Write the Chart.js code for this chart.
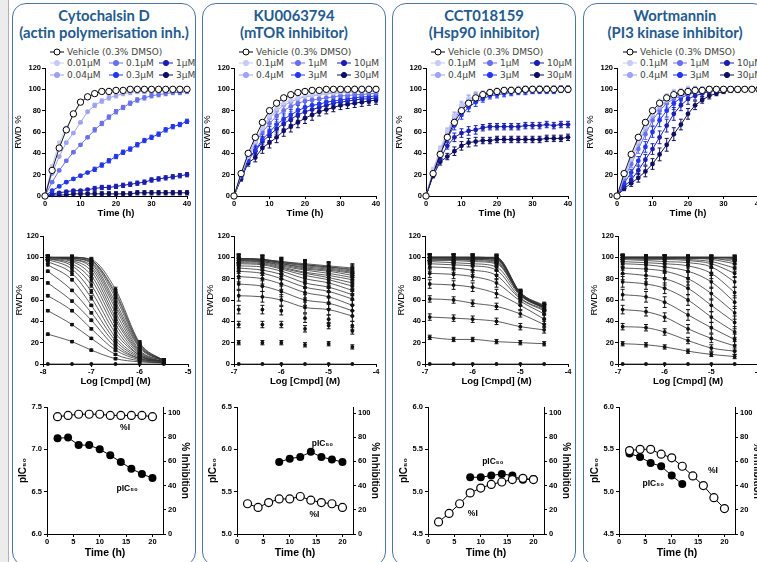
<!DOCTYPE html>
<html lang="en">
<head>
<meta charset="UTF-8">
<title>Live-cell wound closure panels</title>
<script src="https://cdn.jsdelivr.net/npm/chart.js@4.4.1/dist/chart.umd.min.js"></script>
<style>
  *{box-sizing:border-box}
  html,body{margin:0;padding:0;background:#fff}
  body{position:relative;width:757px;height:562px;overflow:hidden;font-family:'Liberation Sans',Arial,sans-serif}
  .edge{position:absolute;left:0;top:0;width:9px;height:562px;background:#ececec;border-right:1px solid #b0b0b0}
  .panel{position:absolute;top:3px;width:184px;height:563px;border:1.5px solid #4d74a8;border-radius:14px}
  .title{position:absolute;top:7px;width:184px;text-align:center;font:bold 14.8px Lato,sans-serif;line-height:16.5px;color:#245a8e}
  canvas{position:absolute}
  .lg{position:absolute;height:12px;display:flex;align-items:center;white-space:nowrap;font:9px 'DejaVu Sans',sans-serif;color:#444}
  .lg span{margin-left:3px}
</style>
</head>
<body>
<div class="edge"></div>
<script>
// ---- data -------------------------------------------------------------
const TIME = [0,2,4,6,8,10,12,14,16,18,20,22,24,26,28,30,32,34,36,38,40];
const T3 = [2,4,6,8,10,12,14,16,18,20];
const T3_LATE = [8,10,12,14,16,18,20];
const T3_EARLY = [2,4,6,8,10,12];

const CYTO_CONC = ['0.01\u03bcM','0.04\u03bcM','0.1\u03bcM','0.3\u03bcM','1\u03bcM','3\u03bcM'];
const OTHER_CONC = ['0.1\u03bcM','0.4\u03bcM','1\u03bcM','3\u03bcM','10\u03bcM','30\u03bcM'];
const CYTO_LOG = [-7.9,-7.4,-7.0,-6.5,-6.0,-5.5];
const OTHER_LOG = [-6.9,-6.4,-6.0,-5.5,-5.0,-4.5];

// RWD % over time, Cytochalsin D
const cyto_veh = [0,24,45,62,77,88,93,96,98,98,99,99,100,100,100,100,100,100,100,100,100];
const cyto_001 = [0,28,50,64,76,87,93,96,98,99,99,99,100,100,100,100,100,100,100,100,100];
const cyto_004 = [0,21,37,50,59,69,79,85,89,92,94,96,97,98,98,99,99,99,100,100,100];
const cyto_01  = [0,13,24,33,41,48,55,62,68,74,79,83,87,90,92,94,95,96,97,97,98];
const cyto_03  = [0,5,9,13,16,19,22,25,29,33,37,41,44,48,52,55,58,62,65,67,70];
const cyto_1   = [0,2,3,4,5,5,6,7,8,8,9,10,11,12,13,15,16,17,18,19,20];
const cyto_3   = [0,1,1,1,2,2,2,2,2,2,2,2,2,3,3,3,3,3,3,3,3];
const cyto_err = [0,1,1,1,1,1,1,2,2,2,2,2,2,2,2,2,2,2,2,2,2];

// KU0063794
const ku_veh = [0,21,40,55,69,80,87,92,95,97,98,99,99,100,100,100,100,100,100,100,100];
const ku_01  = [0,20,37,51,64,75,82,87,90,92,94,95,96,97,97,98,98,99,99,99,99];
const ku_04  = [0,20,37,51,63,73,80,85,88,91,93,94,95,96,96,97,97,98,98,98,98];
const ku_1   = [0,20,37,50,60,68,75,80,84,87,89,90,91,92,93,94,94,95,95,96,96];
const ku_3   = [0,18,33,43,53,60,67,72,76,80,83,85,86,88,89,90,91,92,93,93,94];
const ku_10  = [0,19,36,42,51,57,63,68,72,76,79,81,83,85,87,88,89,90,91,91,92];
const ku_30  = [0,16,31,36,45,50,55,61,65,69,73,76,79,81,83,85,86,87,88,89,90];
const ku_err = [0,2,3,4,5,5,5,5,5,5,5,5,4,4,4,4,4,4,4,4,4];

// CCT018159
const cct_veh = [0,21,39,55,69,80,87,92,95,97,98,99,99,99,100,100,100,100,100,100,100];
const cct_01  = [0,25,44,61,75,85,91,94,96,97,98,99,99,100,100,100,100,100,100,100,100];
const cct_04  = [0,23,43,60,74,84,90,93,95,97,98,98,99,99,100,100,100,100,100,100,100];
const cct_1   = [0,23,42,57,72,82,88,92,94,96,97,98,98,99,99,99,100,100,100,100,100];
const cct_3   = [0,21,40,54,66,76,83,88,91,94,95,96,97,98,98,99,99,99,99,100,100];
const cct_10  = [0,20,35,47,55,59,61,62,64,65,65,65,65,65,66,66,66,67,66,67,67];
const cct_30  = [0,19,32,37,42,47,50,51,52,52,53,53,53,53,53,53,53,54,54,54,55];
const cct_err = [0,2,3,3,4,4,4,4,3,3,3,3,3,3,3,3,3,3,3,3,3];

// Wortmannin
const wort_veh = [0,21,39,55,69,80,87,92,95,97,98,99,99,100,100,100,100,100,100,100,100];
const wort_01  = [0,19,35,51,65,77,85,90,94,96,98,99,99,100,100,100,100,100,100,100,100];
const wort_04  = [0,18,34,49,63,75,83,89,93,95,97,98,99,99,100,100,100,100,100,100,100];
const wort_1   = [0,16,30,44,58,71,80,87,91,94,96,98,99,99,100,100,100,100,100,100,100];
const wort_3   = [0,12,22,33,46,60,71,80,87,92,95,97,98,99,99,100,100,100,100,100,100];
const wort_10  = [0,9,15,24,34,44,55,66,77,85,91,94,96,98,99,99,100,100,100,100,100];
const wort_30  = [0,7,12,17,23,30,39,48,58,67,77,85,90,94,96,98,99,99,100,100,100];
const wort_err = [0,2,3,4,5,5,6,6,6,5,5,4,3,3,2,2,2,2,2,2,2];

// pIC50 and % inhibition over time
const cyto_pic = [7.13,7.14,7.05,7.05,7.00,6.93,6.85,6.77,6.71,6.66];
const cyto_pi  = [97,98,99,99,99,98,98,98,98,97];
const ku_pic   = [5.85,5.89,5.91,5.97,5.91,5.88,5.85];
const ku_pi    = [25,22,26,29,29,31,28,26,25,22];
const cct_pic  = [5.17,5.17,5.19,5.21,5.19,5.14,5.15];
const cct_pi   = [10,17,25,34,38,41,43,45,46,45];
const wort_pic = [5.45,5.41,5.34,5.30,5.19,5.09];
const wort_pi  = [69,70,70,66,63,56,48,40,30,21];

// ---- look & layout ----------------------------------------------------
const SERIES_COLORS = ['#c6caf6','#9da2f1','#6a70ec','#2236ee','#1b1fb0','#0e0e62'];
const PANEL_X = [12, 202, 392, 583];
const LAYOUT = {
  row1: { left: [45, 234, 426, 617], top: 68, w: 142, h: 128 },
  row2: { left: [43, 234, 425, 618], top: 236, w: [145, 142, 143, 140], h: 128 },
  row3: { left: [47, 237, 428, 619], top: 407, w: 116, h: 127 },
  legendX: [[57,116,166],[246,298,344],[438,490,537],[630,680,727]]
};

Chart.defaults.font.family = "'Liberation Sans', Arial, sans-serif";
Chart.defaults.color = '#000';
Chart.defaults.animation = false;
Chart.defaults.plugins.legend.display = false;
Chart.defaults.plugins.tooltip.enabled = false;

// error bars (mean +/- err) drawn behind the markers
const errorBars = {
  id: 'errorBars',
  beforeDatasetsDraw(chart) {
    const ctx = chart.ctx;
    chart.data.datasets.forEach((ds, di) => {
      if (!ds.errors) return;
      const meta = chart.getDatasetMeta(di);
      const xs = chart.scales[meta.xAxisID], ys = chart.scales[meta.yAxisID];
      ctx.save();
      ctx.strokeStyle = ds.errorColor || ds.borderColor;
      ctx.lineWidth = 1;
      ds.data.forEach((p, i) => {
        const e = ds.errors[i];
        if (!e) return;
        const x = xs.getPixelForValue(p.x);
        const y1 = ys.getPixelForValue(p.y + e), y2 = ys.getPixelForValue(p.y - e);
        ctx.beginPath();
        ctx.moveTo(x, y1); ctx.lineTo(x, y2);
        ctx.moveTo(x - 2, y1); ctx.lineTo(x + 2, y1);
        ctx.moveTo(x - 2, y2); ctx.lineTo(x + 2, y2);
        ctx.stroke();
      });
      ctx.restore();
    });
  }
};

// text notes placed in data coordinates
const noteLabels = {
  id: 'noteLabels',
  afterDatasetsDraw(chart, args, opts) {
    if (!opts.items) return;
    const ctx = chart.ctx;
    ctx.save();
    ctx.font = "bold 8.5px 'Liberation Sans', Arial, sans-serif";
    ctx.fillStyle = '#000';
    ctx.textAlign = 'center';
    ctx.textBaseline = 'middle';
    opts.items.forEach(it => {
      ctx.fillText(it.text, chart.scales.x.getPixelForValue(it.x), chart.scales[it.axis].getPixelForValue(it.y));
    });
    ctx.restore();
  }
};
Chart.register(errorBars, noteLabels);

function pts(xs, ys) { return ys.map((y, i) => ({ x: xs[i], y })); }

function addCanvas(left, top, width, height) {
  const cv = document.createElement('canvas');
  cv.width = width; cv.height = height;
  cv.style.left = left + 'px'; cv.style.top = top + 'px';
  cv.style.width = width + 'px'; cv.style.height = height + 'px';
  document.body.appendChild(cv);
  return cv;
}

function axis(o) {
  const last = o.tickMax !== undefined ? o.tickMax : o.max;
  return {
    type: 'linear', position: o.position, min: o.min, max: o.max, bounds: 'data',
    afterFit: s => { if (s.isHorizontal()) s.height = o.size; else s.width = o.size; },
    afterBuildTicks: s => { s.ticks = s.ticks.filter(t => t.value <= last + 1e-9); },
    ticks: { stepSize: o.step, autoSkip: false, maxRotation: 0, padding: o.pad,
             color: '#000', font: { size: o.tickSize, weight: 'bold' }, callback: o.fmt || (v => v) },
    grid: { drawOnChartArea: false, drawTicks: true, tickLength: 3, color: '#000', lineWidth: 1 },
    border: { display: true, color: '#000', width: 1 },
    title: { display: true, text: o.title, color: '#000', font: o.titleFont, padding: o.titlePad }
  };
}

function timeChart(p) {
  const L = LAYOUT.row1, YW = 36, XH = 24, PT = 8, PR = 10;
  const cv = addCanvas(L.left[p.i] - YW, L.top - PT, YW + L.w + PR, PT + L.h + XH);
  const datasets = [{ data: pts(TIME, p.veh), borderColor: '#000', backgroundColor: '#fff',
                      borderWidth: 0.9, pointRadius: 3.2, pointBorderWidth: 1, clip: false }];
  p.series.forEach((s, j) => datasets.push({
    data: pts(TIME, s), borderColor: SERIES_COLORS[j], backgroundColor: SERIES_COLORS[j],
    borderWidth: 1, pointRadius: 2.4, pointBorderWidth: 0, errors: p.err, clip: false
  }));
  new Chart(cv, {
    type: 'line', data: { datasets },
    options: {
      responsive: false, layout: { padding: { top: PT, right: PR, left: 0, bottom: 0 } },
      scales: {
        x: axis({ position: 'bottom', min: 0, max: 40, step: 10, size: XH, pad: 0, tickSize: 7.5,
                  title: 'Time (h)', titleFont: { size: 9.5, weight: 'bold' }, titlePad: { top: 0, bottom: 1 } }),
        y: axis({ position: 'left', min: 0, max: 120, step: 20, size: YW, pad: 1, tickSize: 7.5,
                  title: 'RWD %', titleFont: { size: 9.5 }, titlePad: { top: 4, bottom: 0 } })
      }
    }
  });
}

function doseChart(p) {
  const L = LAYOUT.row2, YW = 36, XH = 24, PT = 8, PR = 10;
  const w = L.w[p.i];
  const cv = addCanvas(L.left[p.i] - YW, L.top - PT, YW + w + PR, PT + L.h + XH);
  const datasets = TIME.map((t, k) => ({
    data: p.logs.map((lx, j) => ({ x: lx, y: p.series[j][k] })),
    errors: p.logs.map(() => p.err[k]), errorColor: '#111',
    showLine: k === 0 || k > (p.unfitted || 0),
    borderColor: '#333', borderWidth: 0.8, backgroundColor: '#111',
    pointRadius: 1.9, pointBorderWidth: 0, cubicInterpolationMode: 'monotone', clip: false
  }));
  new Chart(cv, {
    type: 'line', data: { datasets },
    options: {
      responsive: false, layout: { padding: { top: PT, right: PR, left: 0, bottom: 0 } },
      scales: {
        x: axis({ position: 'bottom', min: p.xmin, max: p.xmin + 3, step: 1, size: XH, pad: 0, tickSize: 7.5,
                  title: 'Log [Cmpd] (M)', titleFont: { size: 9.5, weight: 'bold' }, titlePad: { top: 0, bottom: 1 } }),
        y: axis({ position: 'left', min: 0, max: 120, step: 20, size: YW, pad: 1, tickSize: 7.5,
                  title: 'RWD%', titleFont: { size: 9.5 }, titlePad: { top: 7, bottom: 0 } })
      }
    }
  });
}

function potencyChart(p) {
  const L = LAYOUT.row3, YW = 36, RW = 32, XH = 26, PT = 8;
  const cv = addCanvas(L.left[p.i] - YW, L.top - PT, YW + L.w + RW, PT + L.h + XH);
  new Chart(cv, {
    type: 'line',
    data: { datasets: [
      { yAxisID: 'y2', data: pts(T3, p.pi), borderColor: '#000', backgroundColor: '#fff',
        borderWidth: 1, pointRadius: 4, pointBorderWidth: 1.2, clip: false },
      { yAxisID: 'y', data: pts(p.picT, p.pic), borderColor: '#000', backgroundColor: '#000',
        borderWidth: 1, pointRadius: 4, pointBorderWidth: 0, clip: false }
    ] },
    options: {
      responsive: false, layout: { padding: { top: PT, right: 0, left: 0, bottom: 0 } },
      plugins: { noteLabels: { items: p.notes } },
      scales: {
        x: axis({ position: 'bottom', min: 0, max: 22, tickMax: 20, step: 5, size: XH, pad: 0, tickSize: 7.5,
                  title: 'Time (h)', titleFont: { size: 10.5, weight: 'bold' }, titlePad: { top: 0, bottom: 1 } }),
        y: axis({ position: 'left', min: p.ymin, max: p.ymin + 1.5, step: 0.5, size: YW, pad: 2, tickSize: 7.5,
                  fmt: v => v.toFixed(1),
                  title: 'pIC\u2085\u2080', titleFont: { size: 10, weight: 'bold' }, titlePad: { top: 6, bottom: 0 } }),
        y2: axis({ position: 'right', min: 0, max: 105, tickMax: 100, step: 20, size: RW, pad: 2, tickSize: 7.5,
                   title: '% Inhibition', titleFont: { size: 10, weight: 'bold' }, titlePad: { top: 4, bottom: 0 } })
      }
    }
  });
}

function legendItem(cx, cy, text, color, open) {
  const d = document.createElement('div');
  d.className = 'lg';
  d.style.left = (cx - 7) + 'px';
  d.style.top = (cy - 6) + 'px';
  d.innerHTML = '<svg width="14" height="12"><line x1="0" y1="6" x2="14" y2="6" stroke="' + color + '" stroke-width="1"/>' +
    '<circle cx="7" cy="6" r="' + (open ? 3 : 2.6) + '" fill="' + (open ? '#fff' : color) + '" stroke="' + (open ? '#000' : color) + '" stroke-width="1"/></svg>' +
    '<span>' + text + '</span>';
  document.body.appendChild(d);
}

function panel(i, title1, title2, conc) {
  const box = document.createElement('div');
  box.className = 'panel';
  box.style.left = PANEL_X[i] + 'px';
  document.body.appendChild(box);
  const t = document.createElement('div');
  t.className = 'title';
  t.style.left = PANEL_X[i] + 'px';
  t.innerHTML = title1 + '<br>' + title2;
  document.body.appendChild(t);
  const cols = LAYOUT.legendX[i];
  legendItem(cols[0], 52, 'Vehicle (0.3% DMSO)', '#000', true);
  conc.forEach((c, j) => legendItem(cols[Math.floor(j / 2)], j % 2 ? 75 : 63, c, SERIES_COLORS[j], false));
}

// ---- build ------------------------------------------------------------
const PANELS = [
  { t1: 'Cytochalsin D', t2: '(actin polymerisation inh.)', conc: CYTO_CONC, logs: CYTO_LOG, xmin: -8,
    veh: cyto_veh, series: [cyto_001, cyto_004, cyto_01, cyto_03, cyto_1, cyto_3], err: cyto_err,
    pic: cyto_pic, picT: T3, pi: cyto_pi, ymin: 6.0,
    notes: [{ text: '%I', x: 14.8, y: 88, axis: 'y2' }, { text: 'pIC\u2085\u2080', x: 15.2, y: 6.54, axis: 'y' }] },
  { t1: 'KU0063794', t2: '(mTOR inhibitor)', conc: OTHER_CONC, logs: OTHER_LOG, xmin: -7, unfitted: 3,
    veh: ku_veh, series: [ku_01, ku_04, ku_1, ku_3, ku_10, ku_30], err: ku_err,
    pic: ku_pic, picT: T3_LATE, pi: ku_pi, ymin: 5.0,
    notes: [{ text: 'pIC\u2085\u2080', x: 16.2, y: 6.07, axis: 'y' }, { text: '%I', x: 14.7, y: 16, axis: 'y2' }] },
  { t1: 'CCT018159', t2: '(Hsp90 inhibitor)', conc: OTHER_CONC, logs: OTHER_LOG, xmin: -7,
    veh: cct_veh, series: [cct_01, cct_04, cct_1, cct_3, cct_10, cct_30], err: cct_err,
    pic: cct_pic, picT: T3_LATE, pi: cct_pi, ymin: 4.5,
    notes: [{ text: 'pIC\u2085\u2080', x: 12.3, y: 5.35, axis: 'y' }, { text: '%I', x: 8.5, y: 17, axis: 'y2' }] },
  { t1: 'Wortmannin', t2: '(PI3 kinase inhibitor)', conc: OTHER_CONC, logs: OTHER_LOG, xmin: -7,
    veh: wort_veh, series: [wort_01, wort_04, wort_1, wort_3, wort_10, wort_30], err: wort_err,
    pic: wort_pic, picT: T3_EARLY, pi: wort_pi, ymin: 4.5,
    notes: [{ text: '%I', x: 17.8, y: 52, axis: 'y2' }, { text: 'pIC\u2085\u2080', x: 6.5, y: 5.09, axis: 'y' }] }
];

PANELS.forEach((p, i) => {
  panel(i, p.t1, p.t2, p.conc);
  const q = Object.assign({ i }, p);
  timeChart(q);
  doseChart(q);
  potencyChart(q);
});
</script>
</body>
</html>
